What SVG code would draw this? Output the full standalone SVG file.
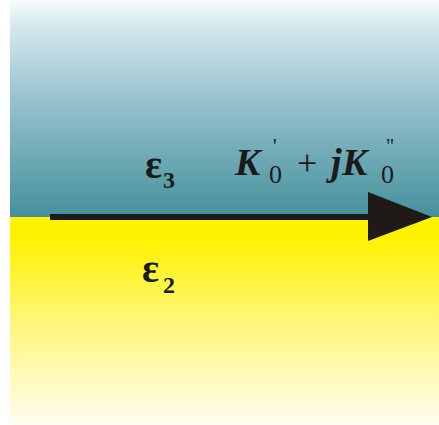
<svg xmlns="http://www.w3.org/2000/svg" width="439" height="425" viewBox="0 0 439 425">
<defs>
<linearGradient id="gTop" x1="0" y1="0" x2="0" y2="1">
<stop offset="0" stop-color="#f8fbfc"/>
<stop offset="0.12" stop-color="#d6e8ee"/>
<stop offset="0.4" stop-color="#a0c8d2"/>
<stop offset="0.7" stop-color="#72acb7"/>
<stop offset="1" stop-color="#45919c"/>
</linearGradient>
<linearGradient id="gBot" x1="0" y1="0" x2="0" y2="1">
<stop offset="0" stop-color="#fff200"/>
<stop offset="0.1" stop-color="#fff200"/>
<stop offset="0.5" stop-color="#fff678"/>
<stop offset="1" stop-color="#fffdf0"/>
</linearGradient>
<style>
.t{font-family:'Times New Roman','Liberation Serif',serif;fill:#1a1a1a}
.eps{font-size:40px;font-weight:bold}
.sub{font-size:24px;font-weight:bold}
.k{font-size:38px;font-weight:bold;font-style:italic}
.z{font-size:26px}
.pr{font-size:20px}
.op{font-size:36px}
</style>
</defs>
<g id="media">
<rect x="10" y="0" width="429" height="217" fill="url(#gTop)"/>
<rect x="10" y="217" width="429" height="208" fill="url(#gBot)"/>
</g>
<g id="connectors">
<line x1="50" y1="217" x2="372" y2="217" stroke="#1f1a17" stroke-width="6"/>
<polygon points="368,192 432,217 368,241" fill="#1f1a17"/>
</g>
<g id="label-eps3">
<text class="t eps" x="145" y="178">ε</text>
<text class="t sub" x="163" y="188">3</text>
</g>
<g id="label-eps2">
<text class="t eps" x="142" y="282">ε</text>
<text class="t sub" x="163" y="293">2</text>
</g>
<g id="label-k">
<text class="t k" x="235" y="175">K</text>
<text class="t z" x="269" y="183">0</text>
<text class="t pr" x="273" y="153">'</text>
<text class="t op" x="297" y="175">+</text>
<text class="t k" x="331" y="175">j</text>
<text class="t k" x="342" y="175">K</text>
<text class="t z" x="381" y="183">0</text>
<text class="t pr" x="386" y="153">"</text>
</g>
</svg>
